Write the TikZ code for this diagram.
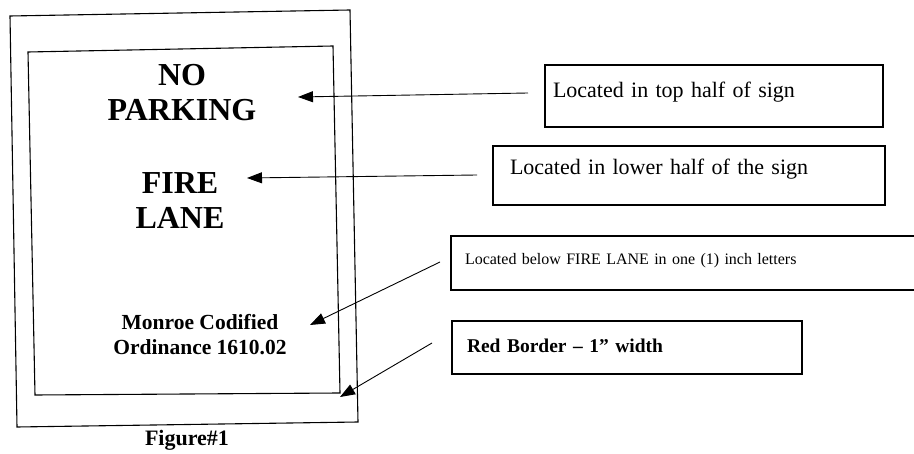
\documentclass[tikz,border=0pt]{standalone}
\usepackage{fontspec}
\setmainfont{Liberation Serif}
\usetikzlibrary{arrows.meta}

\begin{document}
\begin{tikzpicture}[x=1pt, y=-1pt,
	sign/.style={line width=1.1pt},
	signtext/.style={font=\bfseries\fontsize{32}{35}\selectfont, align=center},
	note/.style={draw, line width=1.1pt, inner sep=0pt, align=left},
	pointer/.style={line width=0.9pt, -{Triangle[length=15pt,width=11pt]}}]
	\useasboundingbox (0,0) rectangle (914,454);
	% the sign and its border
	\draw [sign] (10,16) -- (350,10) -- (358,422) -- (17,427) -- cycle;
	\draw [sign] (28,52) -- (333,46) -- (340,393) -- (35,395) -- cycle;
	\node [signtext] (park) at (182,93) {NO\\PARKING};
	\node [signtext] (fire) at (180,201) {FIRE\\LANE};
	\node [font=\bfseries\fontsize{21.5}{25}\selectfont, align=center] (code) at (200,335) {Monroe Codified\\Ordinance 1610.02};
	\node [font=\bfseries\fontsize{22}{26}\selectfont] (fig) at (187,440) {Figure\#1};
	% notes
	\node [note, minimum width=338, minimum height=62, text width=322, text depth=13pt, font=\fontsize{22}{26}\selectfont] (top) at (714,96) {Located in top half of sign};
	\node [note, minimum width=392, minimum height=59, text width=358, text depth=17pt, font=\fontsize{22}{26}\selectfont] (low) at (689,175.5) {Located in lower half of the sign};
	\node [note, minimum width=480, minimum height=54, text width=452, text depth=7.5pt, font=\fontsize{16}{19}\selectfont] (inch) at (691,263) {Located below FIRE LANE in one (1) inch letters};
	\node [note, minimum width=350, minimum height=53, text width=320, text depth=4pt, font=\bfseries\fontsize{19.5}{23}\selectfont] (red) at (627,347.5) {Red Border -- 1'' width};
	% pointers
	\coordinate (p1) at (528,93);  \coordinate (t1) at (298,97);
	\coordinate (p2) at (477,175); \coordinate (t2) at (247,178);
	\coordinate (p3) at (440,262); \coordinate (t3) at (310,325);
	\coordinate (p4) at (432,343); \coordinate (t4) at (340,397);
	\draw [pointer] (p1) -- (t1);
	\draw [pointer] (p2) -- (t2);
	\draw [pointer] (p3) -- (t3);
	\draw [pointer] (p4) -- (t4);
\end{tikzpicture}
\end{document}
